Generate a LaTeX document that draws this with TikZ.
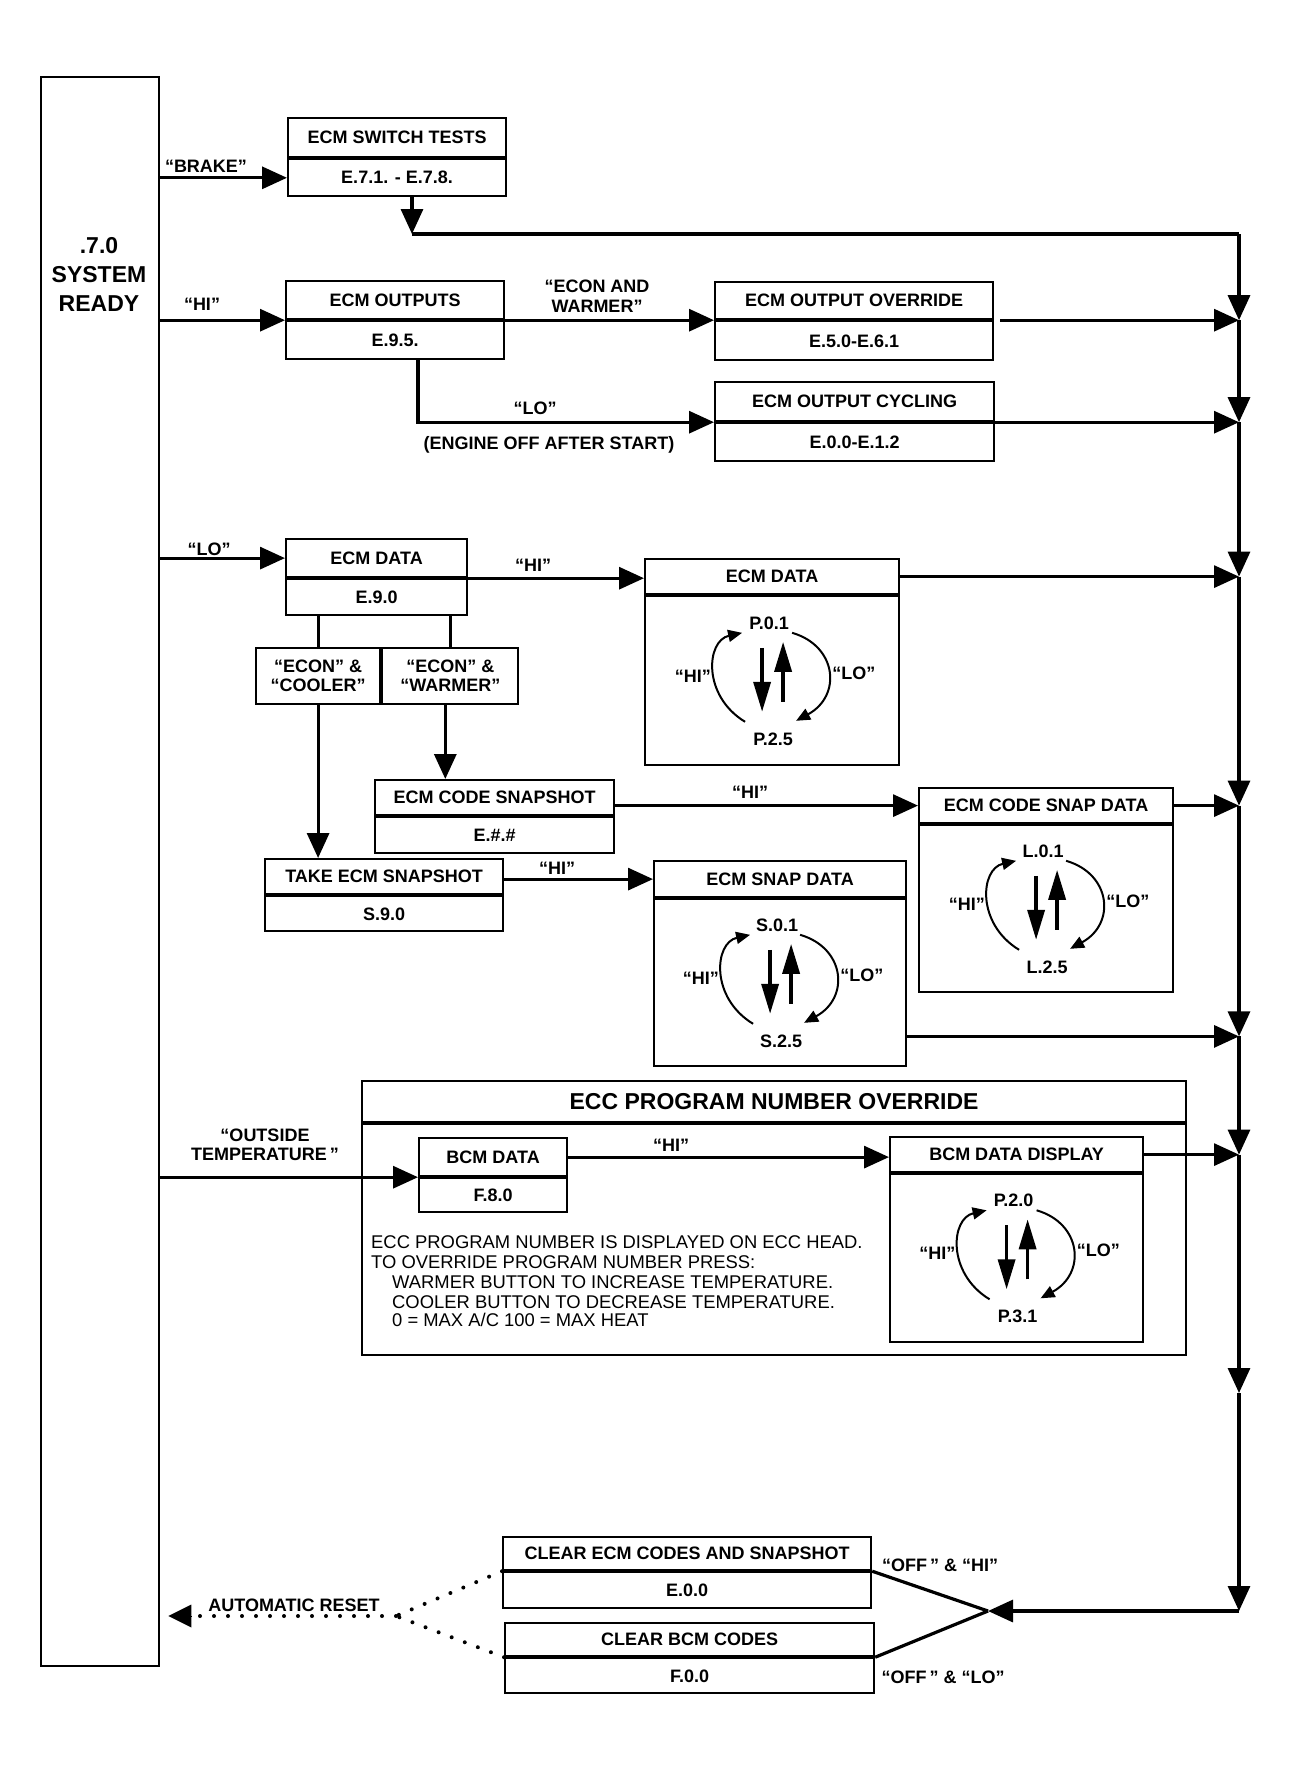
\documentclass[tikz,border=0pt]{standalone}
\usepackage{fontspec}
\setmainfont{Liberation Sans}
\usetikzlibrary{arrows.meta}
\begin{document}
\begin{tikzpicture}[x=1pt,y=-1pt,
  box/.style={draw, line width=2.2pt, inner sep=0pt, anchor=north west,
    font=\bfseries\fontsize{18}{19}\selectfont, align=center},
  lbl/.style={inner sep=0pt, font=\bfseries\fontsize{18}{20}\selectfont, align=center},
  para/.style={inner sep=0pt, anchor=base west, font=\fontsize{18.4}{20}\selectfont},
  clbl/.style={inner sep=0pt, font=\bfseries\fontsize{18}{20}\selectfont},
  conn/.style={line width=3.2pt, -{Triangle[length=25pt,width=22pt]}},
  wire/.style={line width=3.2pt},
  varrow/.style={line width=3.6pt, -{Triangle[length=30pt,width=17pt]}},
  arcarrow/.style={line width=2pt, -{Triangle[length=14pt,width=12pt]}},
  dotline/.style={line width=4pt, line cap=round, dash pattern=on 0pt off 14pt},
  pics/cyc/.style n args={2}{code={
    \node[clbl] (-t) at (-3,-58) {#1};
    \node[clbl] (-b) at (1,58) {#2};
    \node[clbl,anchor=east] (-h) at (-61,-5) {``HI''};
    \node[clbl,anchor=west] (-l) at (60,-8) {``LO''};
    \draw[varrow] (-10,-33) -- (-10,31);
    \draw[varrow] (11,21) -- (11,-39);
    \draw[arcarrow] (-27,41) .. controls (-70,15) and (-66,-40) .. (-30,-48);
    \draw[arcarrow] (20,-48) .. controls (65,-35) and (70,15) .. (24,40);
  }}
]
\fill[white] (0,0) rectangle (1289,1767);
\useasboundingbox (0,0) rectangle (1289,1767);

% system ready column
\node[draw, line width=2.4pt, anchor=north west, minimum width=118pt, minimum height=1589pt, inner sep=0pt] (sys) at (40,76) {};
\node[lbl, font=\bfseries\fontsize{23}{29}\selectfont] (systxt) at (99,274) {.7.0\\SYSTEM\\READY};

% boxes
\node[box, minimum width=218pt, minimum height=39pt] (swt) at (287,117) {ECM SWITCH TESTS};
\node[box, minimum width=218pt, minimum height=37pt] (swc) at (swt.south west) {E.7.1. - E.7.8.};

\node[box, minimum width=218pt, minimum height=38pt] (outt) at (285,280) {ECM OUTPUTS};
\node[box, minimum width=218pt, minimum height=38pt] (outc) at (outt.south west) {E.9.5.};

\node[box, minimum width=278pt, minimum height=37pt] (ovt) at (714,281) {ECM OUTPUT OVERRIDE};
\node[box, minimum width=278pt, minimum height=39pt] (ovc) at (ovt.south west) {E.5.0-E.6.1};

\node[box, minimum width=279pt, minimum height=39pt] (cyct) at (714,381) {ECM OUTPUT CYCLING};
\node[box, minimum width=279pt, minimum height=38pt] (cycc) at (cyct.south west) {E.0.0-E.1.2};

\node[box, minimum width=181pt, minimum height=38pt] (edt) at (285,538) {ECM DATA};
\node[box, minimum width=181pt, minimum height=36pt] (edc) at (edt.south west) {E.9.0};

\node[box, minimum width=124pt, minimum height=56pt] (spl) at (255,647) {``ECON'' \&\\``COOLER''};
\node[box, minimum width=136pt, minimum height=56pt] (spr) at (spl.north east) {``ECON'' \&\\``WARMER''};

\node[box, minimum width=239pt, minimum height=35pt] (cst) at (374,779) {ECM CODE SNAPSHOT};
\node[box, minimum width=239pt, minimum height=36pt] (csc) at (cst.south west) {E.\#.\#};

\node[box, minimum width=238pt, minimum height=35pt] (tst) at (264,858) {TAKE ECM SNAPSHOT};
\node[box, minimum width=238pt, minimum height=35pt] (tsc) at (tst.south west) {S.9.0};

\node[box, minimum width=254pt, minimum height=35pt] (bdt) at (644,558) {ECM DATA};
\node[box, minimum width=254pt, minimum height=169pt] (bdc) at (bdt.south west) {};

\node[box, minimum width=254pt, minimum height=35pt] (cdt) at (918,787) {ECM CODE SNAP DATA};
\node[box, minimum width=254pt, minimum height=167pt] (cdc) at (cdt.south west) {};

\node[box, minimum width=252pt, minimum height=36pt] (sdt) at (653,860) {ECM SNAP DATA};
\node[box, minimum width=252pt, minimum height=167pt] (sdc) at (sdt.south west) {};

\node[box, minimum width=824pt, minimum height=41pt, font=\bfseries\fontsize{23}{25}\selectfont] (ecct) at (361,1080) {\raisebox{-4pt}{ECC PROGRAM NUMBER OVERRIDE}};
\node[box, minimum width=824pt, minimum height=231pt] (eccb) at (ecct.south west) {};

\node[box, minimum width=148pt, minimum height=38pt] (bct) at (418,1137) {BCM DATA};
\node[box, minimum width=148pt, minimum height=34pt] (bcc) at (bct.south west) {F.8.0};

\node[box, minimum width=253pt, minimum height=35pt] (bddt) at (889,1136) {BCM DATA DISPLAY};
\node[box, minimum width=253pt, minimum height=168pt] (bddc) at (bddt.south west) {};

\node[box, minimum width=368pt, minimum height=33pt] (cet) at (502,1536) {CLEAR ECM CODES AND SNAPSHOT};
\node[box, minimum width=368pt, minimum height=36pt] (cec) at (cet.south west) {E.0.0};

\node[box, minimum width=369pt, minimum height=33pt] (cbt) at (504,1622) {CLEAR BCM CODES};
\node[box, minimum width=369pt, minimum height=35pt] (cbc) at (cbt.south west) {F.0.0};

% cycles
\pic (c1) at (bdc.center) {cyc={P.0.1}{P.2.5}};
\pic (c2) at (cdc.center) {cyc={L.0.1}{L.2.5}};
\pic (c3) at (sdc.center) {cyc={S.0.1}{S.2.5}};
\pic (c4) at (bddc.center) {cyc={P.2.0}{P.3.1}};

% paragraph
\node[para] (p1) at (371,1248) {ECC PROGRAM NUMBER IS DISPLAYED ON ECC HEAD.};
\node[para] (p2) at (371,1268) {TO OVERRIDE PROGRAM NUMBER PRESS:};
\node[para] (p3) at (392,1288) {WARMER BUTTON TO INCREASE TEMPERATURE.};
\node[para] (p4) at (392,1308) {COOLER BUTTON TO DECREASE TEMPERATURE.};
\node[para] (p5) at (392,1326) {0 = MAX A/C 100 = MAX HEAT};

% labels
\node[lbl] (lbrake) at (206,166) {``BRAKE''};
\node[lbl] (lhi1) at (202,304) {``HI''};
\node[lbl] (lecw) at (597,296) {``ECON AND\\WARMER''};
\node[lbl] (llo1) at (535,408) {``LO''};
\node[lbl] (leng) at (549,445) {(ENGINE OFF AFTER START)};
\node[lbl] (llo2) at (209,549) {``LO''};
\node[lbl] (lhi2) at (533,565) {``HI''};
\node[lbl] (lhi3) at (750,792) {``HI''};
\node[lbl] (lhi4) at (557,868) {``HI''};
\node[lbl, font=\bfseries\fontsize{18}{19}\selectfont] (lout) at (265,1145) {``OUTSIDE\\TEMPERATURE\,''};
\node[lbl] (lhi5) at (671,1145) {``HI''};
\node[lbl] (lauto) at (294,1605) {AUTOMATIC RESET};
\node[lbl] (loffhi) at (940,1565) {``OFF\,''\ \& ``HI''};
\node[lbl] (lofflo) at (943,1677) {``OFF\,''\ \& ``LO''};

% coordinates
\coordinate (bus) at (1239,0);
\coordinate (jsw) at (412,234);
\coordinate (bt) at (bus |- jsw);
\coordinate (b1) at (ovt.south east -| bus);
\coordinate (b2) at (cyct.south east -| bus);
\coordinate (b3) at (bdt.east -| bus);
\coordinate (b4) at (cdt.east -| bus);
\coordinate (b5) at ([yshift=31pt]sdc.south east -| bus);
\coordinate (b6) at (bddt.east -| bus);
\coordinate (b7) at (1239,1393);
\coordinate (b8) at (1239,1611);
\coordinate (vpt) at (988,1611);
\coordinate (ar) at (396,1616);
\coordinate (lojoin) at (418,0);

% connectors from system ready
\draw[conn] (sys.east |- swc.west) -- (swc.west);
\draw[conn] (sys.east |- outt.south west) -- (outt.south west);
\draw[conn] (sys.east |- edt.west) -- (edt.west);
\draw[conn] (sys.east |- bct.south west) -- (bct.south west);

% switch tests to bus
\draw[conn] (swc.south -| jsw) -- (jsw);
\draw[wire] (jsw) -- (bt);

% outputs
\draw[conn] (outt.south east) -- (ovt.south west);
\draw[conn] ([xshift=6pt]ovt.south east) -- (b1);
\draw[conn] (outc.south -| lojoin) |- (cyct.south west);
\draw[conn] (cyct.south east) -- (b2);

% ecm data
\draw[conn] (edt.south east) -- (edt.south east -| bdt.west);
\draw[conn] (bdt.east) -- (b3);
\draw[wire] (spl.north |- edc.south) -- (spl.north);
\draw[wire] (spr.north |- edc.south) -- (spr.north);
\draw[conn] (spl.south) -- (spl.south |- tst.north);
\draw[conn] ([xshift=-5pt]spr.south) -- ([xshift=-5pt]spr.south |- cst.north);
\draw[conn] (cdt.west -| cst.east) -- (cdt.west);
\draw[conn] (cdt.east) -- (b4);
\draw[conn] (sdt.west -| tst.east) -- (sdt.west);
\draw[conn] ([yshift=31pt]sdc.south east) -- (b5);

% bcm
\draw[conn] (bct.east) -- (bct.east -| bddt.west);
\draw[conn] (bddt.east) -- (b6);

% bus
\draw[conn] (bt) -- (b1);
\draw[conn] (b1) -- (b2);
\draw[conn] (b2) -- (b3);
\draw[conn] (b3) -- (b4);
\draw[conn] (b4) -- (b5);
\draw[conn] (b5) -- (b6);
\draw[conn] (b6) -- (b7);
\draw[conn] (b7) -- (b8);
\draw[conn] (b8) -- (vpt);

% clear codes
\draw[wire] (cet.south east) -- (vpt);
\draw[wire] (cbt.south east) -- (vpt);
\draw[dotline] (cet.south west) -- (ar);
\draw[dotline] (cbt.south west) -- (ar);
\draw[dotline] (ar) -- ([xshift=30pt]sys.east |- ar);
\draw[line width=0pt, -{Triangle[length=23pt,width=23pt]}] ([xshift=31pt]sys.east |- ar) -- ([xshift=8pt]sys.east |- ar);
\end{tikzpicture}
\end{document}
